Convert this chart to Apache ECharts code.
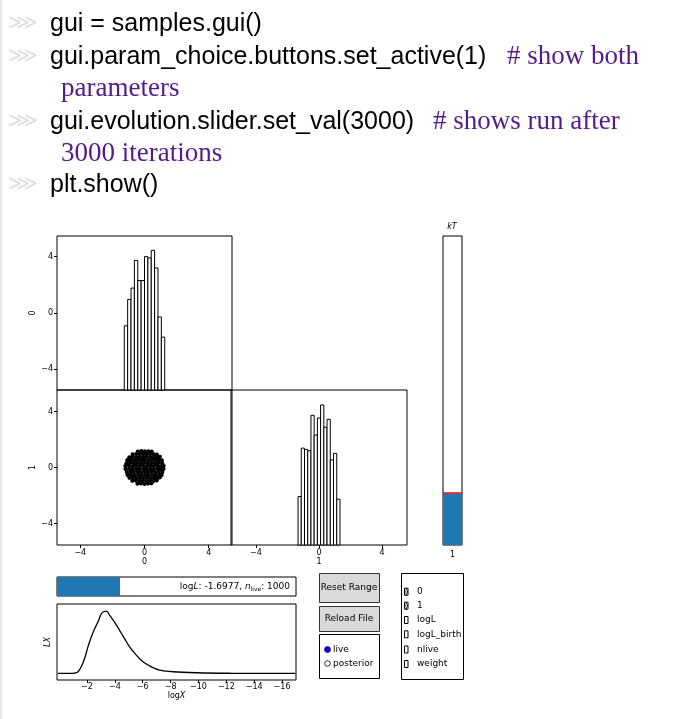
<!DOCTYPE html>
<html>
<head>
<meta charset="utf-8">
<title>gui</title>
<script src="https://cdn.jsdelivr.net/npm/echarts@6.0.0/dist/echarts.min.js"></script>
<style>
    html, body { margin: 0; background: #fff; }
    #main { width: 687px; height: 719px; }
</style>
</head>
<body>
<div id="main"></div>
<script>
// histogram of parameter 0 (top left)
var hist0Edges = [-1.26, -1.05, -0.84, -0.63, -0.42, -0.21, 0, 0.21, 0.42, 0.63, 0.84, 1.05, 1.26];
var hist0Counts = [51, 72, 81, 103, 87, 87, 106, 105, 111, 97, 58, 42];
// histogram of parameter 1 (bottom right)
var hist1Edges = [-1.33, -1.125, -0.92, -0.716, -0.51, -0.307, -0.102, 0.102, 0.307, 0.51, 0.716, 0.92, 1.125, 1.33];
var hist1Counts = [37, 74, 73, 72, 99, 84, 97, 107, 90, 96, 65, 70, 35];
// live points, 0 vs 1
var livePoints = [
    [-0.42, 1.14], [-0.2, 1.17], [0.02, 1.15], [0.24, 1.16], [0.45, 1.13],
    [-0.74, 0.93], [-0.52, 0.96], [-0.3, 0.94], [-0.08, 0.95], [0.14, 0.93], [0.36, 0.96], [0.58, 0.94], [0.77, 0.92],
    [-0.95, 0.72], [-0.73, 0.75], [-0.51, 0.73], [-0.29, 0.74], [-0.07, 0.72], [0.15, 0.75], [0.37, 0.73], [0.59, 0.74], [0.81, 0.72], [0.96, 0.76],
    [-1.07, 0.52], [-0.85, 0.54], [-0.63, 0.51], [-0.41, 0.53], [-0.19, 0.52], [0.03, 0.54], [0.25, 0.51], [0.47, 0.53], [0.69, 0.52], [0.91, 0.54], [1.08, 0.51],
    [-1.12, 0.3], [-0.9, 0.33], [-0.68, 0.31], [-0.46, 0.32], [-0.24, 0.3], [-0.02, 0.33], [0.2, 0.31], [0.42, 0.32], [0.64, 0.3], [0.86, 0.33], [1.1, 0.31],
    [-1.19, 0.1], [-0.97, 0.12], [-0.75, 0.09], [-0.53, 0.11], [-0.31, 0.1], [-0.09, 0.12], [0.13, 0.09], [0.35, 0.11], [0.57, 0.1], [0.79, 0.12], [1.01, 0.09], [1.19, 0.11],
    [-1.18, -0.11], [-0.96, -0.09], [-0.74, -0.12], [-0.52, -0.1], [-0.3, -0.11], [-0.08, -0.09], [0.14, -0.12], [0.36, -0.1], [0.58, -0.11], [0.8, -0.09], [1.02, -0.12], [1.18, -0.1],
    [-1.1, -0.32], [-0.88, -0.3], [-0.66, -0.33], [-0.44, -0.31], [-0.22, -0.32], [0.0, -0.3], [0.22, -0.33], [0.44, -0.31], [0.66, -0.32], [0.88, -0.3], [1.11, -0.33],
    [-1.06, -0.53], [-0.84, -0.51], [-0.62, -0.54], [-0.4, -0.52], [-0.18, -0.53], [0.04, -0.51], [0.26, -0.54], [0.48, -0.52], [0.7, -0.53], [0.92, -0.51], [1.07, -0.54],
    [-0.94, -0.74], [-0.72, -0.72], [-0.5, -0.75], [-0.28, -0.73], [-0.06, -0.74], [0.16, -0.72], [0.38, -0.75], [0.6, -0.73], [0.82, -0.74], [0.95, -0.71],
    [-0.76, -0.95], [-0.54, -0.93], [-0.32, -0.96], [-0.1, -0.94], [0.12, -0.95], [0.34, -0.93], [0.56, -0.96], [0.76, -0.92],
    [-0.44, -1.16], [-0.22, -1.14], [0.0, -1.17], [0.22, -1.15], [0.43, -1.13]
];
// LX against logX
var lxLogX = [0.08, -1.11, -1.36, -1.59, -1.83, -2.07, -2.31, -2.55, -2.79, -3.03, -3.27, -3.44, -3.63, -3.98, -4.34, -4.70, -5.06, -5.54, -6.02, -6.62, -7.22, -8.18, -9.85, -12.3, -16.95];
var lxValue = [0, 0.005, 0.026, 0.106, 0.24, 0.427, 0.587, 0.721, 0.828, 0.963, 1.0, 1.0, 0.936, 0.829, 0.695, 0.561, 0.427, 0.294, 0.186, 0.106, 0.053, 0.026, 0.01, 0.002, 0];
var logXTicks = [-2, -4, -6, -8, -10, -12, -14, -16];
var paramTicks = [-4, 0, 4];
// sliders
var kTLabels = ['1'];
var kTFill = [0.167];
var iteration = [3000];
var iterationMax = 11380;
var checkLabels = ['0', '1', 'logL', 'logL_birth', 'nlive', 'weight'];
var checkState = [true, true, false, false, false, false];

var FONT = 'DejaVu Sans';
var myChart = echarts.init(document.getElementById('main'), null, { renderer: 'canvas' });

function minus(v) { return String(v).replace('-', '\u2212'); }

function histData(edges, counts) {
    return counts.map(function (c, i) { return [edges[i], edges[i + 1], c]; });
}

function histRender(params, api) {
    var p0 = api.coord([api.value(0), 0]);
    var p1 = api.coord([api.value(1), api.value(2)]);
    return {
        type: 'rect',
        shape: { x: p0[0], y: p1[1], width: p1[0] - p0[0], height: p0[1] - p1[1] },
        style: { fill: '#fff', stroke: '#000', lineWidth: 1 }
    };
}

function paramAxis(grid, min, max, labels, name, nameGap) {
    return {
        type: 'value', gridIndex: grid, min: min, max: max,
        axisLine: { show: false, onZero: false },
        splitLine: { show: false },
        axisTick: { show: labels, length: 3, customValues: paramTicks, lineStyle: { color: '#000' } },
        axisLabel: { show: labels, customValues: paramTicks, formatter: minus, fontSize: 8, fontFamily: FONT, color: '#000', margin: 4 },
        name: name, nameLocation: 'middle', nameGap: nameGap,
        nameTextStyle: { fontSize: 8, fontFamily: FONT, color: '#000' }
    };
}

function hiddenAxis(grid, type, min, max, data) {
    return { type: type, gridIndex: grid, min: min, max: max, data: data, show: false, axisLine: { onZero: false } };
}

var gridBase = { show: true, borderColor: '#000', borderWidth: 1, backgroundColor: 'transparent', containLabel: false, outerBoundsMode: 'none' };
function grid(l, t, w, h) { return Object.assign({ left: l, top: t, width: w, height: h }, gridBase); }

// ---- graphic bits: code cell, buttons, check boxes
var g = [];
g.push({ type: 'rect', shape: { x: 0, y: 0, width: 2, height: 719 }, style: { fill: '#e6e6e6' }, silent: true });
var promptY = [24, 57, 122, 185];
promptY.forEach(function (y) {
    g.push({ type: 'text', style: { text: '\u22d9', x: 8, y: y, fontSize: 21, fontFamily: FONT, fill: '#dedede', verticalAlign: 'middle' } });
});
function codeText(t, x, y) {
    g.push({ type: 'text', style: { text: t, x: x, y: y, fontSize: 25, fontFamily: 'Liberation Sans', fill: '#000', verticalAlign: 'middle' } });
}
function commentText(t, x, y) {
    g.push({ type: 'text', style: { text: t, x: x, y: y, fontSize: 27, fontFamily: 'Liberation Serif', fill: '#551a8b', verticalAlign: 'middle' } });
}
codeText('gui = samples.gui()', 50, 24);
codeText('gui.param_choice.buttons.set_active(1)', 50, 57);
commentText('# show both', 507, 57);
commentText('parameters', 61, 89);
codeText('gui.evolution.slider.set_val(3000)', 50, 122);
commentText('# shows run after', 433, 122);
commentText('3000 iterations', 61, 154);
codeText('plt.show()', 50, 185);

function smallText(t, x, y, align) {
    g.push({ type: 'text', style: { text: t, x: x, y: y, fontSize: 9, fontFamily: FONT, fill: '#000', align: align || 'left', verticalAlign: 'middle' } });
}
g.push({ type: 'text', style: { text: 'kT', x: 452, y: 227, fontSize: 8, fontStyle: 'italic', fontFamily: FONT, fill: '#000', align: 'center', verticalAlign: 'middle' } });
g.push({ type: 'text', style: {
    text: 'log{i|L}: -1.6977, {i|n}{s|live}: 1000', x: 290, y: 587, fontSize: 9, fontFamily: FONT, fill: '#000', align: 'right', verticalAlign: 'middle',
    rich: { i: { fontSize: 9, fontFamily: FONT, fontStyle: 'italic' }, s: { fontSize: 6, fontFamily: FONT, padding: [4, 0, 0, 0] } }
} });
// buttons
g.push({ type: 'rect', shape: { x: 319.5, y: 573.5, width: 60, height: 29 }, style: { fill: '#d9d9d9', stroke: '#333', lineWidth: 1 } });
smallText('Reset Range', 349, 588, 'center');
g.push({ type: 'rect', shape: { x: 319.5, y: 606.5, width: 60, height: 25 }, style: { fill: '#d9d9d9', stroke: '#333', lineWidth: 1 } });
smallText('Reload File', 349, 619, 'center');
g.push({ type: 'rect', shape: { x: 319.5, y: 634.5, width: 60, height: 44 }, style: { fill: '#fff', stroke: '#000', lineWidth: 1 } });
g.push({ type: 'circle', shape: { cx: 327.5, cy: 649.5, r: 3 }, style: { fill: '#0000ff', stroke: '#000', lineWidth: 0.6 } });
smallText('live', 333, 649.5);
g.push({ type: 'circle', shape: { cx: 327.5, cy: 663.5, r: 2.8 }, style: { fill: '#fff', stroke: '#000', lineWidth: 0.8 } });
smallText('posterior', 333, 663.5);
// check boxes
g.push({ type: 'rect', shape: { x: 401.5, y: 573.5, width: 62, height: 106 }, style: { fill: '#fff', stroke: '#000', lineWidth: 1 } });
var checkY = [591.7, 605.7, 620, 634.3, 649.5, 664];
checkLabels.forEach(function (lab, i) {
    var y = checkY[i];
    g.push({ type: 'rect', shape: { x: 404.5, y: y - 3.5, width: 3.5, height: 7 }, style: { fill: checkState[i] ? '#222' : '#fff', stroke: '#000', lineWidth: 1 } });
    if (checkState[i]) {
        g.push({ type: 'line', shape: { x1: 405, y1: y - 3, x2: 407.5, y2: y + 3 }, style: { stroke: '#fff', lineWidth: 0.8 } });
        g.push({ type: 'line', shape: { x1: 407.5, y1: y - 3, x2: 405, y2: y + 3 }, style: { stroke: '#fff', lineWidth: 0.8 } });
    }
    smallText(lab, 417, y);
});

var option = {
    animation: false,
    backgroundColor: '#fff',
    grid: [
        grid(57, 236, 175, 154),   // 0: hist of 0
        grid(57, 390, 175, 155),   // 1: 0 vs 1
        grid(231, 390, 176, 155),  // 2: hist of 1
        grid(443, 236, 19, 309),   // 3: kT slider
        grid(57, 577, 239, 19),    // 4: iteration slider
        grid(57, 604, 239, 76)     // 5: LX
    ],
    xAxis: [
        paramAxis(0, -5.45, 5.45, false, '', 0),
        paramAxis(1, -5.45, 5.45, true, '0', 10),
        paramAxis(2, -5.58, 5.58, true, '1', 10),
        {
            type: 'category', gridIndex: 3, data: kTLabels,
            axisLine: { show: false, onZero: false }, axisTick: { show: false },
            axisLabel: { fontSize: 8, fontFamily: FONT, color: '#000', margin: 6 }
        },
        hiddenAxis(4, 'value', 0, iterationMax),
        {
            type: 'value', gridIndex: 5, min: -17.0, max: 0.15, inverse: true,
            axisLine: { show: false, onZero: false }, splitLine: { show: false },
            axisTick: { length: 3, customValues: logXTicks, lineStyle: { color: '#000' } },
            axisLabel: { customValues: logXTicks, formatter: minus, fontSize: 8, fontFamily: FONT, color: '#000', margin: 3 },
            name: 'log{i|X}', nameLocation: 'middle', nameGap: 12,
            nameTextStyle: { fontSize: 8, fontFamily: FONT, color: '#000', rich: { i: { fontSize: 8, fontFamily: FONT, fontStyle: 'italic' } } }
        }
    ],
    yAxis: [
        paramAxis(0, -5.47, 5.47, true, '0', 15),
        hiddenAxis(0, 'value', 0, 122.4),
        paramAxis(1, -5.53, 5.53, true, '1', 15),
        hiddenAxis(2, 'value', 0, 118.4),
        hiddenAxis(3, 'value', 0, 1),
        hiddenAxis(4, 'category', null, null, ['']),
        {
            type: 'value', gridIndex: 5, min: -0.107, max: 1.12,
            axisLine: { show: false, onZero: false }, splitLine: { show: false }, axisTick: { show: false }, axisLabel: { show: false },
            name: 'LX', nameLocation: 'middle', nameGap: 5,
            nameTextStyle: { fontSize: 8, fontFamily: FONT, fontStyle: 'italic', color: '#000' }
        }
    ],
    series: [
        { type: 'custom', xAxisIndex: 0, yAxisIndex: 1, data: histData(hist0Edges, hist0Counts), renderItem: histRender, encode: { x: [0, 1], y: 2 }, silent: true },
        { type: 'scatter', xAxisIndex: 1, yAxisIndex: 2, data: livePoints, symbolSize: 4.2, itemStyle: { color: '#000', opacity: 1 }, silent: true },
        { type: 'custom', xAxisIndex: 2, yAxisIndex: 3, data: histData(hist1Edges, hist1Counts), renderItem: histRender, encode: { x: [0, 1], y: 2 }, silent: true },
        {
            type: 'bar', xAxisIndex: 3, yAxisIndex: 4, data: kTFill, barWidth: '100%', itemStyle: { color: '#1f77b4' }, silent: true,
            markLine: { symbol: 'none', silent: true, label: { show: false }, lineStyle: { color: '#ff0000', width: 1.5, type: 'solid' }, data: [{ yAxis: kTFill[0] }] }
        },
        { type: 'bar', xAxisIndex: 4, yAxisIndex: 5, data: iteration, barWidth: '100%', itemStyle: { color: '#1f77b4' }, silent: true },
        {
            type: 'line', xAxisIndex: 5, yAxisIndex: 6, data: lxLogX.map(function (x, i) { return [x, lxValue[i]]; }),
            showSymbol: false, smooth: 0.3, lineStyle: { color: '#000', width: 1.3 }, silent: true
        }
    ],
    graphic: { elements: g }
};

myChart.setOption(option);
</script>
</body>
</html>
